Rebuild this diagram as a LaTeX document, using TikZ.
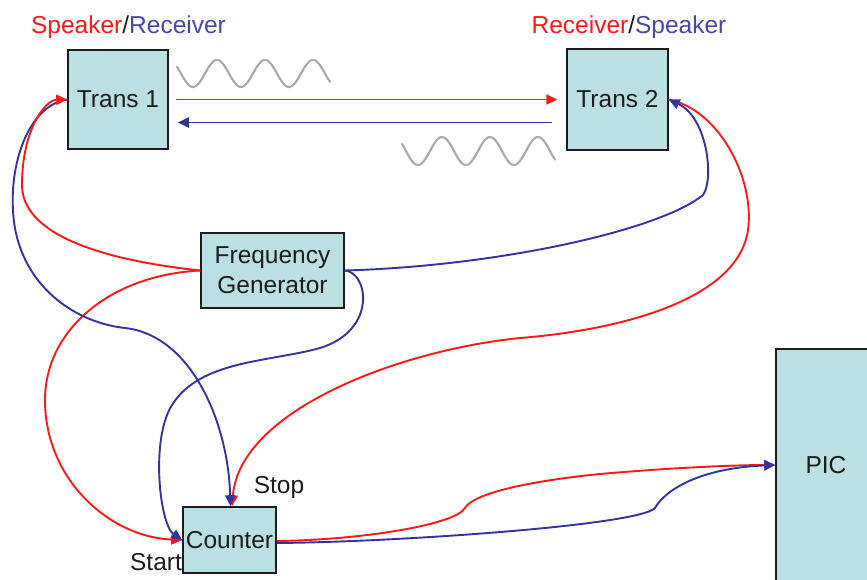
\documentclass[tikz,border=0pt]{standalone}
\usepackage{fontspec}
\setmainfont{Liberation Sans}
\usetikzlibrary{arrows.meta}

\definecolor{boxfill}{RGB}{187,224,227}
\definecolor{sigred}{RGB}{255,24,24}
\definecolor{sigblue}{RGB}{52,52,160}
\definecolor{labblue}{RGB}{72,72,170}
\definecolor{wavegray}{RGB}{172,172,172}
\definecolor{ink}{RGB}{28,28,28}

\tikzset{
  unit/.style={draw=ink, line width=1.5pt, fill=boxfill, inner sep=0pt,
    text=ink, font=\fontsize{24.5}{30}\selectfont, align=center},
  tag/.style={inner sep=0pt, text=ink, font=\fontsize{24.5}{30}\selectfont},
  wire/.style={line width=1.9pt, -{Triangle[length=11pt,width=10pt]}},
  redwire/.style={wire, draw=sigred},
  bluewire/.style={wire, draw=sigblue},
  wave/.style={draw=wavegray, line width=2.2pt, line cap=round, line join=round},
}

\begin{document}
\begin{tikzpicture}[x=1pt,y=-1pt]
\useasboundingbox (0,0) rectangle (867,579);
\fill[white] (0,0) rectangle (867,579);

% blocks
\node[unit, minimum width=100pt, minimum height=99pt] (t1) at (118,99.5) {Trans 1};
\node[unit, minimum width=101pt, minimum height=101pt] (t2) at (617.5,99.5) {Trans 2};
\node[unit, minimum width=143pt, minimum height=75pt] (fg) at (272.5,270.5) {Frequency\\Generator};
\node[unit, minimum width=93pt, minimum height=66pt] (ctr) at (229.5,540) {Counter};
\node[unit, minimum width=100pt, minimum height=232pt] (pic) at (826,465) {PIC};

% role captions
\node[tag] (cap1) at (128.5,27) {{\color{sigred}Speaker}/{\color{labblue}Receiver}};
\node[tag] (cap2) at (629,27) {{\color{sigred}Receiver}/{\color{labblue}Speaker}};
\node[tag] (stoplab) at (279,487) {Stop};
\node[tag] (startlab) at (156,562) {Start};

% sound waves (period 48, so 360/48 = 7.5 degrees per unit)
\draw[wave] plot[domain=177:330, samples=140, smooth] (\x, {73.5-13.5*cos(7.5*(\x-217))});
\draw[wave] plot[domain=402:555, samples=140, smooth] (\x, {151-14*cos(7.5*(\x-442))});

% direct links between the transducers
\draw[redwire] ([xshift=7pt]t1.east) -- ([xshift=-9pt]t2.west);
\draw[bluewire] ([xshift=-14pt,yshift=-23pt]t2.west) -- ([xshift=9pt,yshift=-23pt]t1.east);

% Trans 2 -> Counter (stop), red
\draw[redwire] (t2.east) .. controls (720,110) and (755,180) .. (748,230)
  .. controls (738,300) and (620,330) .. (520,338)
  .. controls (400,350) and (240,410) .. ([xshift=2.5pt]ctr.north);

% Frequency generator -> Counter (start), red
\draw[redwire] (fg.west) .. controls (110,275) and (45,330) .. (45,400)
  .. controls (45,480) and (110,537) .. (ctr.west);

% Counter -> PIC, red
\draw[redwire] ([yshift=-1pt]ctr.east) .. controls (360,540) and (455,525) .. (465,508)
  .. controls (472,495) and (520,482) .. (600,474)
  .. controls (680,467) and (740,465) .. (pic.west);

% Trans 1 -> Counter (stop), blue
\draw[bluewire] (t1.west) .. controls (30,105) and (10,160) .. (13,210)
  .. controls (16,280) and (70,322) .. (125,328)
  .. controls (190,335) and (228,420) .. ([xshift=1pt]ctr.north);

% Frequency generator -> Trans 1, red
\draw[redwire] (fg.west) .. controls (120,262) and (22,240) .. (22,185)
  .. controls (22,130) and (45,100) .. (t1.west);

% Frequency generator -> Counter (start), blue
\draw[bluewire] (fg.east) .. controls (368,272) and (378,330) .. (320,348)
  .. controls (270,362) and (200,360) .. (172,405)
  .. controls (150,440) and (160,525) .. (ctr.west);

% Frequency generator -> Trans 2, blue
\draw[bluewire] (fg.east) .. controls (500,266) and (660,230) .. (703,195)
  .. controls (714,180) and (708,118) .. (t2.east);

% Counter -> PIC, blue
\draw[bluewire] ([yshift=-3pt]ctr.east) .. controls (400,542) and (640,525) .. (655,508)
  .. controls (665,490) and (700,468) .. (pic.west);
\end{tikzpicture}
\end{document}
